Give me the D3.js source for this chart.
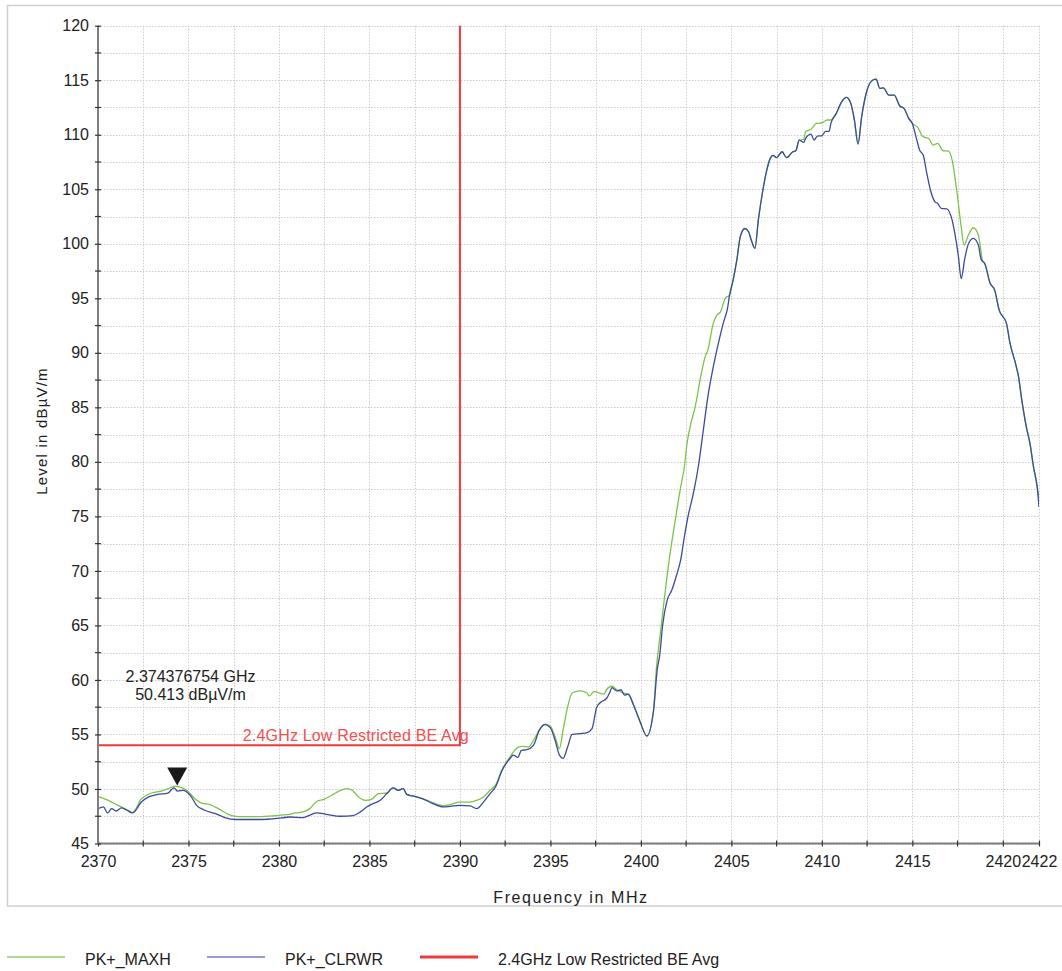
<!DOCTYPE html>
<html><head><meta charset="utf-8">
<script src="https://cdn.jsdelivr.net/npm/d3@7"></script>
<style>
html,body{margin:0;padding:0;background:#fff;}
svg{display:block;font-family:"Liberation Sans",Arial,sans-serif;}
</style></head>
<body>
<svg id="chart" width="1062" height="971"></svg>
<script>
// ---- data ----
const maxhFreq = [2370.0,2370.57,2371.1,2371.67,2371.9,2372.4,2372.96,2373.5,2373.86,2374.26,2374.5,2374.9,2375.36,2375.73,2376.19,2376.65,2377.2,2377.76,2379.04,2380.15,2380.6,2380.9,2381.35,2381.7,2382.1,2382.45,2383.0,2383.4,2383.77,2384.05,2384.4,2384.8,2385.16,2385.5,2386.0,2386.3,2386.6,2386.87,2387.06,2387.4,2387.96,2388.5,2389.1,2389.45,2390.0,2390.56,2390.93,2391.3,2391.67,2392.0,2392.3,2392.77,2393.05,2393.4,2393.8,2394.06,2394.4,2394.7,2395.0,2395.26,2395.5,2395.7,2395.95,2396.2,2396.65,2397.0,2397.15,2397.4,2397.96,2398.1,2398.4,2398.67,2399.05,2399.3,2399.6,2399.96,2400.33,2400.7,2400.85,2401.07,2401.35,2401.6,2401.9,2402.2,2402.4,2402.55,2402.76,2403.0,2403.27,2403.55,2403.7,2404.0,2404.2,2404.4,2404.66,2404.9,2405.1,2405.3,2405.5,2405.75,2405.95,2406.1,2406.3,2406.5,2406.75,2406.95,2407.15,2407.3,2407.5,2407.8,2408.05,2408.4,2408.56,2408.75,2409.0,2409.1,2409.4,2409.7,2410.0,2410.3,2410.5,2410.8,2411.1,2411.35,2411.57,2411.8,2412.0,2412.2,2412.5,2412.8,2413.0,2413.2,2413.4,2413.7,2414.0,2414.3,2414.55,2414.8,2415.0,2415.3,2415.6,2415.9,2416.15,2416.4,2416.7,2417.0,2417.2,2417.45,2417.7,2417.86,2418.1,2418.37,2418.65,2418.9,2419.0,2419.3,2419.55,2419.8,2420.2,2420.4,2420.7,2420.87,2421.05,2421.3,2421.5,2421.7,2421.9,2422.0];
const maxhLevel = [49.3,48.96,48.5,48.05,47.83,49.1,49.63,49.8,50.0,50.27,50.2,49.88,49.1,48.7,48.57,48.2,47.68,47.47,47.47,47.6,47.68,47.8,47.9,48.2,48.87,49.03,49.5,49.88,50.04,49.88,49.27,48.96,49.1,49.58,49.63,50.1,49.88,50.04,49.5,49.36,49.1,48.75,48.48,48.56,48.8,48.8,48.96,49.27,49.88,50.46,51.7,52.94,53.6,53.9,53.85,54.47,55.4,55.94,55.75,54.77,53.7,55.4,57.5,58.8,58.99,58.83,58.53,58.93,58.69,59.1,59.42,59.1,58.8,58.7,57.68,56.15,54.86,57.2,60.9,64.2,68.2,71.44,74.65,77.7,79.5,81.7,83.5,85.04,87.5,89.63,90.25,92.7,93.46,93.76,95.0,95.3,96.7,98.5,100.7,101.4,101.1,100.34,99.58,102.3,105.0,106.7,107.83,108.1,107.9,108.44,107.9,108.44,108.53,109.5,109.57,110.3,110.5,111.04,111.1,111.35,111.35,111.96,113.03,113.43,113.0,111.35,109.15,111.65,114.1,115.0,115.1,114.26,114.3,113.64,113.64,112.66,112.4,111.5,111.04,110.68,109.8,109.67,109.05,109.2,108.53,108.5,107.68,104.93,101.56,99.88,100.8,101.47,100.8,98.35,98.2,96.37,95.75,93.92,92.7,90.86,89.03,87.8,85.66,83.2,81.7,79.5,77.7,76.64];

const clrwrFreq = [2370.0,2370.3,2370.53,2370.75,2371.0,2371.3,2371.6,2371.9,2372.4,2372.8,2373.3,2373.86,2374.2,2374.4,2374.7,2375.1,2375.45,2375.9,2376.5,2377.0,2377.6,2379.0,2380.15,2380.6,2381.35,2381.7,2382.1,2382.6,2383.4,2384.1,2384.5,2384.85,2385.2,2385.6,2385.96,2386.3,2386.6,2386.87,2387.06,2387.4,2387.96,2388.5,2389.1,2389.45,2390.0,2390.56,2390.93,2391.3,2391.67,2392.0,2392.3,2392.77,2392.95,2393.2,2393.4,2393.7,2394.06,2394.4,2394.7,2395.0,2395.26,2395.5,2395.7,2395.95,2396.2,2396.65,2397.0,2397.3,2397.56,2397.8,2398.1,2398.3,2398.4,2398.67,2398.9,2399.1,2399.3,2399.6,2399.96,2400.33,2400.7,2400.9,2401.05,2401.2,2401.45,2401.7,2402.0,2402.2,2402.4,2402.6,2402.9,2403.2,2403.45,2403.7,2404.0,2404.3,2404.55,2404.8,2404.9,2405.1,2405.3,2405.5,2405.75,2405.95,2406.1,2406.3,2406.5,2406.75,2406.95,2407.15,2407.3,2407.5,2407.8,2408.05,2408.4,2408.56,2408.75,2409.0,2409.1,2409.4,2409.57,2409.75,2410.0,2410.2,2410.4,2410.5,2410.8,2411.1,2411.35,2411.57,2411.8,2412.0,2412.2,2412.5,2412.8,2413.0,2413.2,2413.4,2413.7,2414.0,2414.3,2414.55,2414.8,2415.0,2415.25,2415.4,2415.6,2415.8,2416.0,2416.25,2416.4,2416.6,2416.9,2417.2,2417.35,2417.55,2417.7,2417.9,2418.1,2418.37,2418.65,2418.8,2419.0,2419.3,2419.55,2419.8,2420.2,2420.4,2420.7,2420.87,2421.05,2421.3,2421.5,2421.7,2421.9,2422.0];
const clrwrLevel = [48.2,48.35,47.8,48.2,47.98,48.26,48.05,47.8,48.8,49.27,49.5,49.63,50.1,49.8,49.88,49.42,48.5,48.05,47.74,47.38,47.2,47.2,47.35,47.43,47.38,47.6,47.8,47.68,47.5,47.55,47.9,48.35,48.66,48.96,49.58,50.1,49.88,50.04,49.5,49.36,49.1,48.66,48.35,48.4,48.5,48.45,48.2,48.8,49.58,50.3,51.6,52.8,53.1,52.9,53.55,53.6,54.0,55.45,55.9,55.6,54.47,53.1,52.8,53.85,55.0,55.08,55.15,55.54,57.5,57.98,58.3,58.93,59.3,59.0,59.1,58.6,58.7,57.68,56.15,54.86,57.2,60.9,62.4,65.0,67.3,68.2,69.76,71.0,73.1,74.95,77.1,79.85,82.9,85.96,88.7,91.0,92.7,94.2,95.3,96.7,98.5,100.7,101.4,101.1,100.34,99.58,102.3,105.0,106.7,107.83,108.1,107.9,108.44,107.9,108.44,108.53,109.5,109.3,109.67,110.06,109.5,109.88,109.9,110.3,110.3,111.04,111.96,113.03,113.43,113.0,111.35,109.15,111.65,114.1,115.0,115.1,114.26,114.3,113.64,113.64,112.66,112.4,111.5,111.04,109.5,108.6,108.14,106.46,104.93,103.85,103.7,103.25,103.2,102.17,100.95,98.8,96.8,98.66,100.0,100.5,99.88,98.57,98.2,96.37,95.75,93.92,92.7,90.86,89.03,87.8,85.66,83.2,81.7,79.5,77.7,75.87];

const limitLevel = 54;
const limitEndFreq = 2390;
const limitLabel = "2.4GHz Low Restricted BE Avg";
const markerFreqMHz = 2374.376754;
const markerLevel = 50.413;
const markerLines = ["2.374376754 GHz", "50.413 dBµV/m"];

const xTickValues = [2370,2375,2380,2385,2390,2395,2400,2405,2410,2415,2420,2422];
const xMinorValues = [2372.5,2377.5,2382.5,2387.5,2392.5,2397.5,2402.5,2407.5,2412.5,2417.5];
const xGridValues = [2370,2372.5,2375,2377.5,2380,2382.5,2385,2387.5,2390,2392.5,2395,2397.5,2400,2402.5,2405,2407.5,2410,2412.5,2415,2417.5,2420,2422];
const yTickValues = [45,50,55,60,65,70,75,80,85,90,95,100,105,110,115,120];
const yMinorValues = [47.5,52.5,57.5,62.5,67.5,72.5,77.5,82.5,87.5,92.5,97.5,102.5,107.5,112.5,117.5];

const legendNames = ["PK+_MAXH","PK+_CLRWR","2.4GHz Low Restricted BE Avg"];
const xTitle = "Frequency in MHz";
const yTitle = "Level in dBµV/m";

// ---- drawing ----
const svg = d3.select("#chart");
const L = 98, R = 1039, T = 25.7, B = 843.5;
const x = d3.scaleLinear().domain([2370, 2422]).range([L, R]);
const y = d3.scaleLinear().domain([45, 120]).range([B, T]);

const cGreen = "#7cc447", cBlue = "#3b4a9e", cRed = "#ee3b3b";

// outer frame
svg.append("rect").attr("x",7.5).attr("y",5.5).attr("width",1070).attr("height",900.5)
  .attr("fill","none").attr("stroke","#cfcfcf").attr("stroke-width",1.5);

// grid
const grid = svg.append("g").attr("stroke","#cccccc").attr("stroke-width",1).attr("stroke-dasharray","1.5,1.5");
grid.selectAll("line.v").data(xGridValues).join("line")
  .attr("x1",d=>Math.round(x(d))+0.5).attr("x2",d=>Math.round(x(d))+0.5).attr("y1",T).attr("y2",B);
grid.selectAll("line.h").data(yTickValues.concat(yMinorValues)).join("line")
  .attr("y1",d=>Math.round(y(d))+0.5).attr("y2",d=>Math.round(y(d))+0.5).attr("x1",L).attr("x2",R);

// traces
const line = d3.line().x(d=>x(d[0])).y(d=>y(d[1])).curve(d3.curveMonotoneX);
const maxh = maxhFreq.map((f,i)=>[f, maxhLevel[i]]);
const clrwr = clrwrFreq.map((f,i)=>[f, clrwrLevel[i]]);
svg.append("clipPath").attr("id","pc").append("rect").attr("x",L).attr("y",T).attr("width",R-L).attr("height",B-T);
svg.append("path").datum(maxh).attr("d",line).attr("fill","none").attr("stroke",cGreen).attr("stroke-width",1.3).attr("clip-path","url(#pc)");
svg.append("path").datum(clrwr).attr("d",line).attr("fill","none").attr("stroke",cBlue).attr("stroke-width",1.3).attr("clip-path","url(#pc)");

// limit line
svg.append("path")
  .attr("d", `M${x(2370)},${y(limitLevel)}H${x(limitEndFreq)}V${y(120)}`)
  .attr("fill","none").attr("stroke",cRed).attr("stroke-width",2);
svg.append("text").attr("x",x(limitEndFreq)+9).attr("y",y(limitLevel)-4)
  .attr("text-anchor","end").attr("font-size",16).attr("letter-spacing","0.18px").attr("fill","#f05050").text(limitLabel);

// axes
const axisColor = "#7f7f7f";
const gx = svg.append("g").attr("transform",`translate(0,${B})`)
  .call(d3.axisBottom(x).tickValues(xTickValues).tickSize(3).tickPadding(9).tickFormat(d3.format("d")));
const gy = svg.append("g").attr("transform",`translate(${L},0)`)
  .call(d3.axisLeft(y).tickValues(yTickValues).tickSize(3).tickPadding(6).tickFormat(d3.format("d")));
[gx,gy].forEach(g=>{
  g.select(".domain").attr("stroke",axisColor).attr("stroke-width",2);
  g.selectAll(".tick line").attr("stroke","#333").attr("stroke-width",1.2);
  g.selectAll(".tick text").attr("font-size",16).attr("fill","#222").attr("font-family","Liberation Sans, Arial, sans-serif");
});
gx.select(".domain").attr("d",`M${L},0H${R}`);
gy.select(".domain").attr("d",`M0,${T}V${B}`);
gx.selectAll(".tick line").attr("y1",-3).attr("y2",3);
gy.selectAll(".tick line").attr("x1",-3).attr("x2",3);
gx.selectAll(".tick text").attr("dy","0.71em");
// minor ticks
svg.append("g").selectAll("line").data(xMinorValues).join("line")
  .attr("x1",d=>x(d)).attr("x2",d=>x(d)).attr("y1",B-3).attr("y2",B+3).attr("stroke","#333").attr("stroke-width",1.2);
svg.append("g").selectAll("line").data(yMinorValues).join("line")
  .attr("y1",d=>y(d)).attr("y2",d=>y(d)).attr("x1",L-3).attr("x2",L+3).attr("stroke","#333").attr("stroke-width",1.2);

// axis titles
svg.append("text").attr("x",571).attr("y",903).attr("text-anchor","middle")
  .attr("font-size",16).attr("letter-spacing","1.6px").attr("fill","#222").text(xTitle);
svg.append("text").attr("transform",`translate(47,${431}) rotate(-90)`).attr("text-anchor","middle")
  .attr("font-size",15).attr("letter-spacing","1.2px").attr("fill","#222").text(yTitle);

// marker
const mx = x(markerFreqMHz), my = y(markerLevel);
svg.append("path").attr("d",`M${mx},${my+1}L${mx-10},${my-17}L${mx+10},${my-17}Z`).attr("fill","#1a1a1a");
svg.append("text").attr("x",190.5).attr("y",682).attr("text-anchor","middle").attr("font-size",16).attr("fill","#222").text(markerLines[0]);
svg.append("text").attr("x",190.5).attr("y",700).attr("text-anchor","middle").attr("font-size",16).attr("fill","#222").text(markerLines[1]);

// legend
const legendColors = ["#8fcf6a","#6f7fc4",cRed];
const legendLineX = [7,207,420];
const lg = svg.append("g");
legendNames.forEach((n,i)=>{
  lg.append("line").attr("x1",legendLineX[i]).attr("x2",legendLineX[i]+58).attr("y1",957).attr("y2",957)
    .attr("stroke",legendColors[i]).attr("stroke-width",i===2?3:1.5);
  lg.append("text").attr("x",legendLineX[i]+78).attr("y",965).attr("font-size",16).attr("fill","#222").text(n);
});
</script>
</body></html>
